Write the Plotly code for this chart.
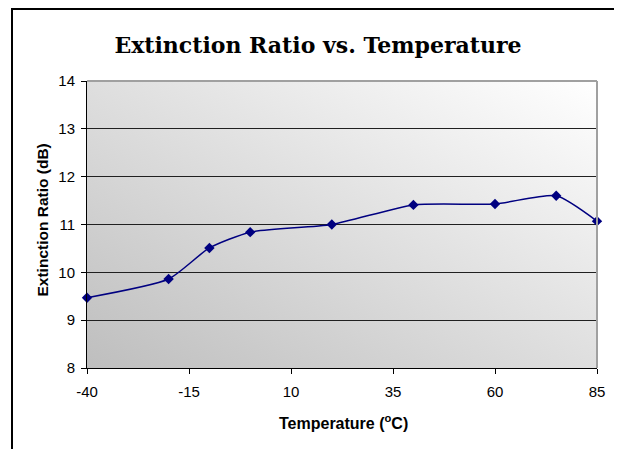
import base64
import plotly.graph_objects as go

temperature_c = [-40, -20, -10, 0, 20, 40, 60, 75, 85]
extinction_db = [9.47, 9.86, 10.51, 10.84, 11.0, 11.41, 11.43, 11.6, 11.07]
x_ticks = [-40, -15, 10, 35, 60, 85]
y_ticks = [8, 9, 10, 11, 12, 13, 14]

# page has an 8px body margin, so the figure is laid out 8px smaller
W, H = 614, 441
L, R, T, B = 79, 25, 73, 81
pw, ph = W - L - R, H - T - B

svg = ('<svg xmlns="http://www.w3.org/2000/svg" width="100" height="100" preserveAspectRatio="none">'
       '<defs><linearGradient id="g" x1="0" y1="1" x2="1" y2="0">'
       '<stop offset="0" stop-color="#bebebe"/><stop offset="1" stop-color="#ffffff"/>'
       '</linearGradient></defs><rect width="100" height="100" fill="url(#g)"/></svg>')
src = "data:image/svg+xml;base64," + base64.b64encode(svg.encode()).decode()

fig = go.Figure()
fig.add_trace(go.Scatter(
    x=temperature_c, y=extinction_db, mode="lines+markers",
    line=dict(color="#000080", width=1.5, shape="spline", smoothing=0.6),
    marker=dict(symbol="diamond", size=8, color="#000080"),
    cliponaxis=False, showlegend=False,
))

axis_font = dict(family="Liberation Sans", size=16, color="black")

fig.update_layout(
    width=W, height=H,
    margin=dict(l=L, r=R, t=T, b=B),
    paper_bgcolor="white", plot_bgcolor="rgba(0,0,0,0)",
    title=dict(text="<b>Extinction Ratio vs. Temperature</b>", x=310 / W, xref="container",
               xanchor="center", y=1 - 37 / H, yanchor="middle",
               font=dict(family="DejaVu Serif", size=22, color="black")),
    images=[dict(source=src, xref="paper", yref="paper", x=0, y=1, sizex=1, sizey=1,
                 xanchor="left", yanchor="top", sizing="stretch", layer="below")],
    shapes=[
        dict(type="rect", xref="paper", yref="paper",
             x0=(4 - L) / pw, x1=(613 - L) / pw, y0=-0.5, y1=(H - B - 1) / ph,
             line=dict(color="black", width=2), layer="below"),
        dict(type="line", xref="paper", yref="paper", x0=0, x1=1, y0=1, y1=1,
             line=dict(color="#a0a0a0", width=2)),
        dict(type="line", xref="paper", yref="paper", x0=1, x1=1, y0=0, y1=1,
             line=dict(color="#a0a0a0", width=2)),
    ],
    annotations=[
        dict(text="<b>Temperature (<sup>o</sup>C)</b>", xref="paper", yref="paper",
             x=(335 - L) / pw, y=-54 / ph, xanchor="center", yanchor="middle", showarrow=False,
             font=axis_font),
        dict(text="<b>Extinction Ratio (dB)</b>", xref="paper", yref="paper",
             x=(33.5 - L) / pw, y=148 / ph, xanchor="center", yanchor="middle", showarrow=False,
             textangle=-90, font=dict(family="Liberation Sans", size=15.5, color="black")),
    ],
)

fig.update_xaxes(
    range=[-40, 85], tickvals=x_ticks, ticktext=[str(v) for v in x_ticks],
    showgrid=False, zeroline=False, showline=True, linecolor="black", linewidth=1,
    ticks="outside", ticklen=5, tickcolor="black", ticklabelstandoff=5,
    tickfont=dict(family="Liberation Sans", size=15, color="black"),
)
fig.update_yaxes(
    range=[8, 14], tickvals=y_ticks,
    showgrid=True, gridcolor="#202020", gridwidth=1, zeroline=False,
    showline=True, linecolor="black", linewidth=1,
    ticks="outside", ticklen=5, tickcolor="black", ticklabelstandoff=3,
    tickfont=dict(family="Liberation Sans", size=15, color="black"),
)

fig.write_html("out.html")
